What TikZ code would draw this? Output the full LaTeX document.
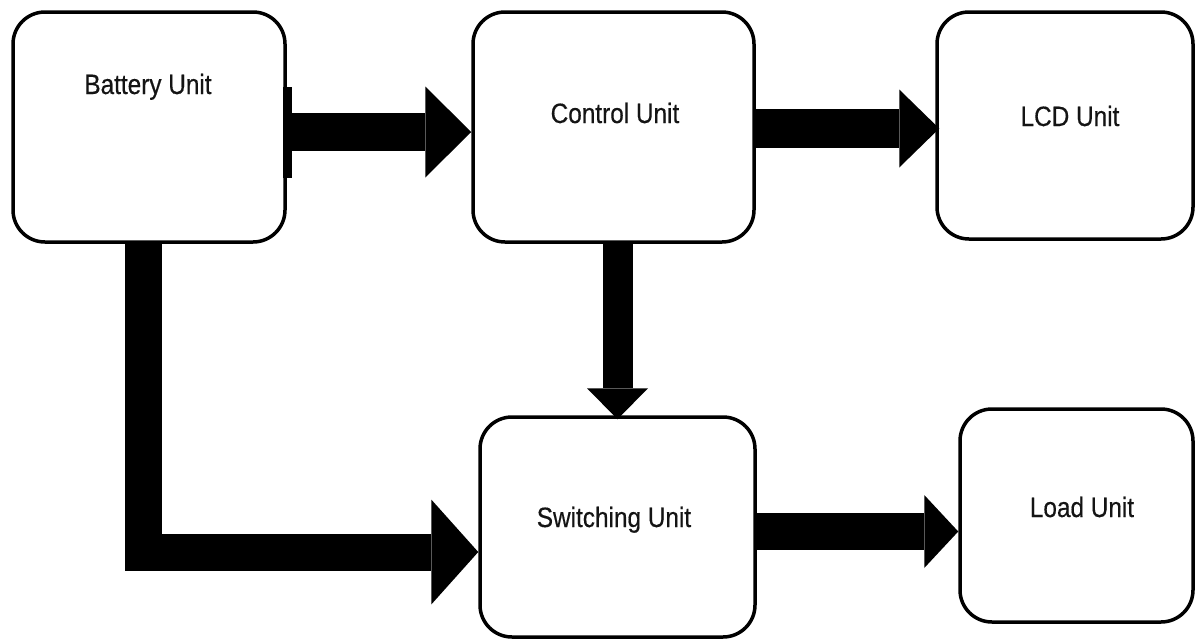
\documentclass[tikz,border=0pt]{standalone}
\usepackage{fontspec}
\setmainfont[FakeStretch=0.87,FakeBold=0.4]{Liberation Sans}
\usetikzlibrary{arrows.meta}
\begin{document}
\begin{tikzpicture}[x=1pt,y=-1pt,
  unitbox/.style={draw, line width=3.5pt, rounded corners=32pt, fill=white, inner sep=0pt},
  unitlabel/.style={anchor=base, font=\fontsize{28}{33}\selectfont, text=black!92},
  fat/.style n args={3}{line width=#1, line join=miter,
    -{Triangle[length=#2, width=#3, line width=0pt]}}
]
\path[use as bounding box, fill=white] (0,0) rectangle (1195,638);

% unit blocks
\node[unitbox, minimum width=272pt, minimum height=230pt] (bat)  at (149,127)    {};
\node[unitbox, minimum width=281pt, minimum height=230pt] (ctrl) at (613.5,127)  {};
\node[unitbox, minimum width=256pt, minimum height=227pt] (lcd)  at (1065,125.5) {};
\node[unitbox, minimum width=275pt, minimum height=220pt] (sw)   at (617.5,527)  {};
\node[unitbox, minimum width=233pt, minimum height=213pt] (load) at (1076.5,515.5) {};

% block titles
\node[unitlabel] (batlbl)  at (148,94)   {Battery Unit};
\node[unitlabel] (ctrllbl) at (615,123)  {Control Unit};
\node[unitlabel] (lcdlbl)  at (1070,126) {LCD Unit};
\node[unitlabel] (swlbl)   at (614,527)  {Switching Unit};
\node[unitlabel] (loadlbl) at (1082,517) {Load Unit};

% tab on the battery output side
\fill (283,87) rectangle (292,178);

% power and signal flow
\draw[fat={38pt}{46pt}{91pt}] ([yshift=-5pt]bat.east) -- ([yshift=-5pt]ctrl.west);
\draw[fat={39pt}{40pt}{78pt}] ([yshift=-1.5pt]ctrl.east) -- ([xshift=4pt,yshift=-3pt]lcd.west);
\draw[fat={30pt}{31pt}{61pt}] (ctrl.south -| sw.north) -- ([yshift=-4pt]sw.north);
\draw[fat={37pt}{47pt}{105pt}] ([xshift=-5.5pt]bat.south) |- ([yshift=-25pt]sw.west);
\draw[fat={37pt}{34pt}{73pt}] ([yshift=-4.5pt]sw.east) -- ([yshift=-16pt]load.west);
\end{tikzpicture}
\end{document}
